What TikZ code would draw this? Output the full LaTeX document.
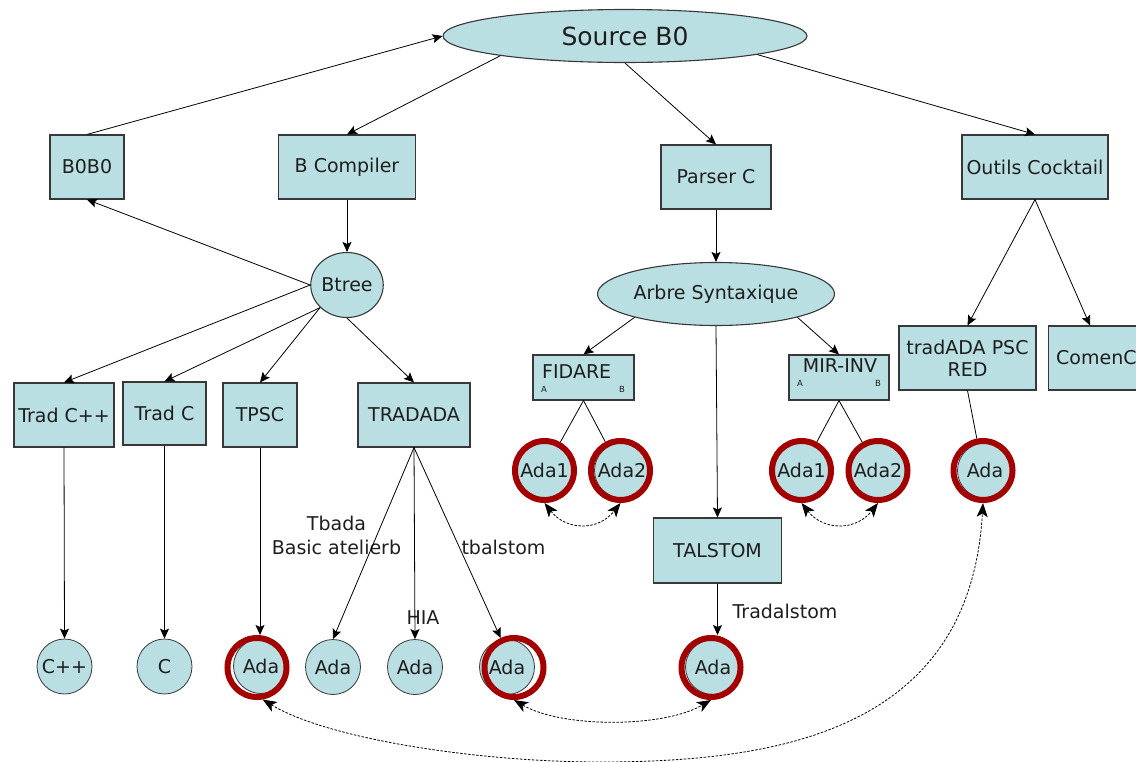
\documentclass[tikz,border=0pt]{standalone}
\usepackage{fontspec}
\setmainfont{DejaVu Sans}
\usetikzlibrary{arrows.meta,shapes.geometric}

\definecolor{nodefill}{HTML}{B9DFE2}
\definecolor{nodeline}{HTML}{383838}
\definecolor{ringred}{HTML}{A30000}
\definecolor{txt}{HTML}{1E1E1E}

\begin{document}
\begin{tikzpicture}[x=1pt,y=-1pt,
  every node/.style={text=txt, font=\fontsize{19}{22}\selectfont},
  box/.style={rectangle, draw=nodeline, fill=nodefill, line width=1.1pt, inner sep=0pt},
  ada/.style={circle, draw=nodeline, fill=nodefill, line width=0.8pt, minimum size=55pt, inner sep=0pt},
  ring/.style={circle, draw=ringred, line width=6pt, minimum size=59pt, inner sep=0pt},
  tiny/.style={font=\fontsize{8.5}{9}\selectfont, inner sep=0pt},
  arr/.style={draw=black, line width=0.8pt, -{Stealth[length=10pt,width=9pt,inset=2pt]}},
  link/.style={draw=black, line width=0.8pt},
  dbl/.style={draw=black, line width=0.8pt, dash pattern=on 2.5pt off 1.5pt,
    {Stealth[length=14pt,width=11pt,inset=3.5pt]}-{Stealth[length=14pt,width=11pt,inset=3.5pt]}},
]
\useasboundingbox (0,0) rectangle (1136,761);

% ---------- boxes and ellipses ----------
\node[box, ellipse, minimum width=364pt, minimum height=53pt, font=\fontsize{25}{30}\selectfont] (src) at (625,36) {Source B0};
\node[box, minimum width=74pt, minimum height=64pt] (b0b0) at (87,167) {B0B0};
\node[box, minimum width=137pt, minimum height=64pt] (bcomp) at (347,167) {B Compiler};
\node[box, minimum width=110pt, minimum height=64pt] (parser) at (716,177) {Parser C};
\node[box, minimum width=146pt, minimum height=64pt] (outils) at (1035,167) {Outils Cocktail};

\node[box, ellipse, minimum width=72pt, minimum height=65pt] (btree) at (347,285) {Btree};
\node[box, ellipse, minimum width=237pt, minimum height=63pt] (arbre) at (716,294) {Arbre Syntaxique};

\node[box, minimum width=100pt, minimum height=64pt] (tcpp) at (64,415) {Trad C++};
\node[box, minimum width=83pt, minimum height=63pt] (tc) at (164.5,413.5) {Trad C};
\node[box, minimum width=74pt, minimum height=64pt] (tpsc) at (260,415) {TPSC};
\node[box, minimum width=112pt, minimum height=64pt] (tradada) at (414,415) {TRADADA};

\node[box, minimum width=101pt, minimum height=45pt] (fidare) at (583.5,377.5) {};
\node[anchor=west, inner sep=0pt] (fidtxt) at (542,372) {FIDARE};
\node[tiny] (fidA) at (544,389) {A};
\node[tiny] (fidB) at (622,389) {B};

\node[box, minimum width=100pt, minimum height=45pt] (mir) at (839,377.5) {};
\node[inner sep=0pt] (mirtxt) at (840,365.5) {MIR-INV};
\node[tiny] (mirA) at (800,383) {A};
\node[tiny] (mirB) at (878,383) {B};

\node[box, minimum width=137pt, minimum height=64pt, align=center] (tradpsc) at (967.5,358) {tradADA PSC\\RED};
\node[box, minimum width=140pt, minimum height=64pt, anchor=west] (comenc) at (1048,358) {};
\node[anchor=west, inner sep=0pt] (comtxt) at (1056,358) {ComenC};

\node[box, minimum width=128pt, minimum height=65pt] (talstom) at (717.5,550.5) {TALSTOM};

% ---------- result circles ----------
\node[ada] (cpp)  at (64.5,666.5) {C++};
\node[ada] (cc)   at (164.5,666.5) {C};
\node[ada] (adaT) at (261,666) {Ada};
\node[ada] (adaB) at (333,667) {Ada};
\node[ada] (adaH) at (415,667) {Ada};
\node[ada] (adaR) at (507,667) {Ada};
\node[ada] (adaL) at (713,667) {Ada};
\node[ada] (fa1)  at (544.5,470.5) {Ada1};
\node[ada] (fa2)  at (622,470.5) {Ada2};
\node[ada] (ma1)  at (801.5,470.5) {Ada1};
\node[ada] (ma2)  at (878,470.5) {Ada2};
\node[ada] (ta)   at (985,470.5) {Ada};

% ---------- edge labels ----------
\node[align=center, font=\fontsize{19}{24}\selectfont] (lbTbada) at (336.5,535) {Tbada\\Basic atelierb};
\node (lbHIA) at (423,618) {HIA};
\node (lbTbal) at (503.5,547) {tbalstom};
\node (lbTral) at (785,611) {Tradalstom};

% ---------- highlight rings ----------
\node[ring] (rT)  at (257,667.5) {};
\node[ring] (rR)  at (514,667.5) {};
\node[ring] (rL)  at (711,667.5) {};
\node[ring] (rF1) at (544.5,470.5) {};
\node[ring] (rF2) at (620.5,470.5) {};
\node[ring] (rM1) at (801.5,470.5) {};
\node[ring] (rM2) at (878,470.5) {};
\node[ring] (rA)  at (983,470.5) {};

% ---------- tree edges ----------
\draw[arr] (b0b0.north) -- (src.west);
\draw[arr] (src.189) -- (bcomp.north);
\draw[arr] (src.south) -- (parser.north);
\draw[arr] (src.-8.6) -- (outils.north);

\draw[arr] (bcomp.south) -- (btree.north);
\draw[arr] (btree.west) -- (b0b0.south);
\draw[arr] (btree.west) -- (tcpp.north);
\draw[arr] (btree.220) -- (tc.north);
\draw[arr] (btree.220) -- (tpsc.north);
\draw[arr] (btree.south) -- (tradada.north);

\draw[arr] (tcpp.south) -- (cpp.north);
\draw[arr] (tc.south) -- (cc.north);
\draw[arr] (tpsc.south) -- (tpsc.south |- rT.north);
\draw[arr] (tradada.south) -- (adaB.north);
\draw[arr] (tradada.south) -- (adaH.north);
\draw[arr] (tradada.south) -- (rR);

\draw[arr] (parser.south) -- (arbre.north);
\draw[arr] (arbre.196) -- (fidare.north);
\draw[arr] (arbre.-16) -- (mir.north);
\draw[arr] (arbre.south) -- (talstom.north);
\draw[link] (fidare.south) -- (rF1);
\draw[link] (fidare.south) -- (rF2);
\draw[link] (mir.south) -- (rM1);
\draw[link] (mir.south) -- (rM2);
\draw[arr] (talstom.south) -- (talstom.south |- rL.north);

\draw[arr] (outils.south) -- (tradpsc.north);
\draw[arr] (outils.south) -- ([xshift=42pt]comenc.north west);
\draw[link] (tradpsc.south) -- (rA);

% ---------- equivalence links ----------
\draw[dbl] (rF1.south) .. controls ([xshift=22pt,yshift=-28pt]rF1.south) and ([xshift=-22pt,yshift=-28pt]rF2.south) .. (rF2.south);
\draw[dbl] (rM1.south) .. controls ([xshift=22pt,yshift=-28pt]rM1.south) and ([xshift=-22pt,yshift=-28pt]rM2.south) .. (rM2.south);
\draw[dbl] (rR.south) .. controls ([xshift=48pt,yshift=-28pt]rR.south) and ([xshift=-48pt,yshift=-28pt]rL.south) .. (rL.south);
\coordinate (low) at (600,762);
\draw[dbl] (rT.-80) .. controls ([xshift=66pt,yshift=-40pt]rT.-80) and ([xshift=-120pt]low) .. (low)
  .. controls ([xshift=180pt]low) and ([xshift=-13pt,yshift=-227pt]rA.south) .. (rA.south);
\end{tikzpicture}
\end{document}
